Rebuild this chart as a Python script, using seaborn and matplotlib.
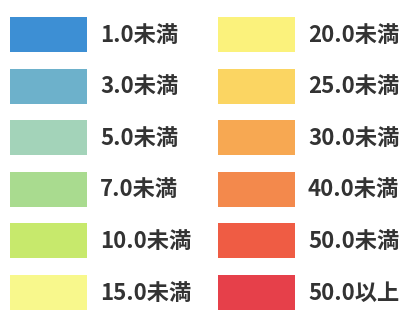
import matplotlib
matplotlib.use("Agg")
import matplotlib.pyplot as plt
import seaborn as sns
import pandas as pd

labels = ["1.0未満", "3.0未満", "5.0未満", "7.0未満", "10.0未満", "15.0未満",
          "20.0未満", "25.0未満", "30.0未満", "40.0未満", "50.0未満", "50.0以上"]
colors = ["#3d8fd4", "#6db1cb", "#a3d3b9", "#a9db8f", "#c7e96c", "#f8f88c",
          "#fbf27c", "#fbd562", "#f7a852", "#f3894c", "#ef5c44", "#e6404a"]
values = [1] * len(labels)

sns.set_theme(style="white")
plt.rcParams['font.family'] = ['Noto Sans CJK JP', 'DejaVu Sans']

W, H = 411, 313
fig = plt.figure(figsize=(W / 100, H / 100), dpi=100)
ax = fig.add_axes([0, 0, 0.01, 0.01])
df = pd.DataFrame({"label": labels, "value": values})
sns.barplot(data=df, x="label", y="value", hue="label", palette=colors,
            ax=ax, legend=True, saturation=1)
ax.set_axis_off()
for p in ax.patches:
    p.set_visible(False)

fs = 16.0
px = fs * 100 / 72.0            # font size in pixels
hl = 77 / px                    # swatch width
hh = ((35 * 0.72) / fs - 0.245) / 0.65   # swatch height 35px
ls = (51.6 - 35) / px
sns.move_legend(ax, loc="upper left", bbox_to_anchor=(10 / W, 1 - 17 / H),
                bbox_transform=fig.transFigure, ncol=2, frameon=False,
                title=None, handlelength=hl, handleheight=hh,
                handletextpad=13 / px, labelspacing=ls, columnspacing=1.2,
                borderaxespad=0.0, borderpad=0.0,
                prop={"size": fs, "weight": "bold"}, labelcolor="#333333")
leg = ax.get_legend()
for h in leg.legend_handles:
    h.set_edgecolor("none")

fig.savefig("out.png", dpi=100, facecolor="white")
